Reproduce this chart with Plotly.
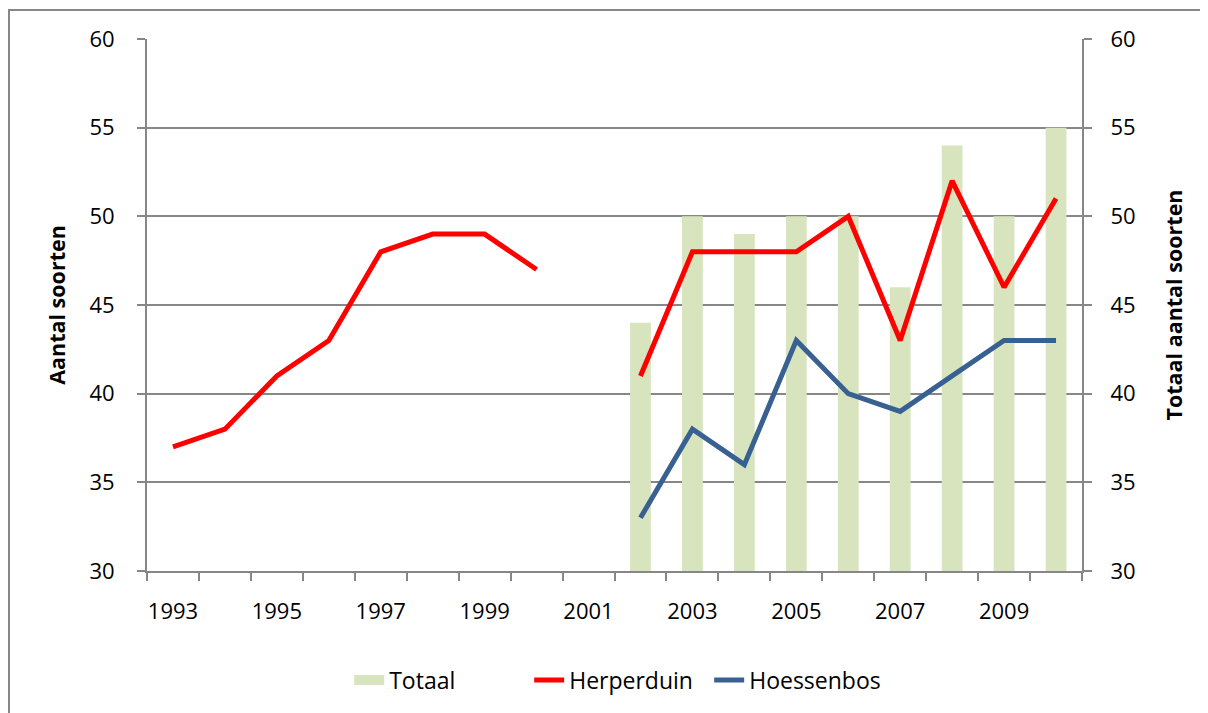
import plotly.graph_objects as go

years = list(range(1993, 2011))
herperduin = [37, 38, 41, 43, 48, 49, 49, 47, None, 41, 48, 48, 48, 50, 43, 52, 46, 51]
hoessen_years = list(range(2002, 2011))
hoessenbos = [33, 38, 36, 43, 40, 39, 41, 43, 43]
totaal_years = list(range(2002, 2011))
totaal = [44, 50, 49, 50, 50, 46, 54, 50, 55]
tick_years = [1993, 1995, 1997, 1999, 2001, 2003, 2005, 2007, 2009]

FONT = "Open Sans"
GRAY = "#878787"
GREEN = "#D7E4BD"

fig = go.Figure()
# bars (drawn first, beneath lines)
fig.add_trace(go.Bar(x=totaal_years, y=totaal, name="Totaal", showlegend=False,
                     marker=dict(color=GREEN, line=dict(width=0)), width=0.4))
# legend entry for Totaal as a wide swatch
fig.add_trace(go.Scatter(x=[None], y=[None], name="Totaal", mode="lines",
                         line=dict(color=GREEN, width=10)))
fig.add_trace(go.Scatter(x=years, y=herperduin, name="Herperduin", mode="lines",
                         line=dict(color="#FF0000", width=5), connectgaps=False))
fig.add_trace(go.Scatter(x=hoessen_years, y=hoessenbos, name="Hoessenbos", mode="lines",
                         line=dict(color="#386192", width=5)))
# secondary axis carrier (Totaal axis)
fig.add_trace(go.Scatter(x=totaal_years, y=totaal, yaxis="y2", mode="markers",
                         marker=dict(opacity=0), showlegend=False, hoverinfo="skip"))

fig.update_layout(
    width=1200, height=705,
    margin=dict(l=139, r=126, t=31, b=142),
    paper_bgcolor="white", plot_bgcolor="white",
    font=dict(family=FONT, size=22, color="black"),
    showlegend=True,
    legend=dict(orientation="h", x=0.505, y=-0.205, xanchor="center", yanchor="middle",
                font=dict(size=23), traceorder="normal",
                entrywidthmode="pixels", entrywidth=135),
    xaxis=dict(range=[1992.5, 2010.5], tickvals=tick_years, ticktext=[str(t) for t in tick_years],
               ticks="", showgrid=False, showline=True, linecolor=GRAY, linewidth=2,
               ticklabelstandoff=20, zeroline=False,
               minor=dict(ticks="outside", ticklen=8, tickcolor=GRAY, tickwidth=2,
                          tick0=1992.5, dtick=1, showgrid=False)),
    yaxis=dict(range=[30, 60], dtick=5, showgrid=True, gridcolor=GRAY, gridwidth=2,
               showline=True, linecolor=GRAY, linewidth=2, ticks="outside", ticklen=8,
               tickcolor=GRAY, tickwidth=2, zeroline=False, ticklabelstandoff=18,
               title=dict(text="<b>Aantal soorten</b>", font=dict(size=21.5), standoff=18)),
    yaxis2=dict(range=[30, 60], dtick=5, overlaying="y", side="right", showgrid=False,
                showline=True, linecolor=GRAY, linewidth=2, ticks="outside", ticklen=8,
                tickcolor=GRAY, tickwidth=2, zeroline=False, ticklabelstandoff=14,
                title=dict(text="<b>Totaal aantal soorten</b>", font=dict(size=21.5), standoff=32)),
    bargap=0.6,
)

fig.add_shape(type="rect", xref="paper", yref="paper", x0=-0.1476, x1=1.3, y0=-0.5, y1=1.0545,
              line=dict(color=GRAY, width=2), fillcolor="rgba(0,0,0,0)", layer="below")

fig.write_html("out.html")
